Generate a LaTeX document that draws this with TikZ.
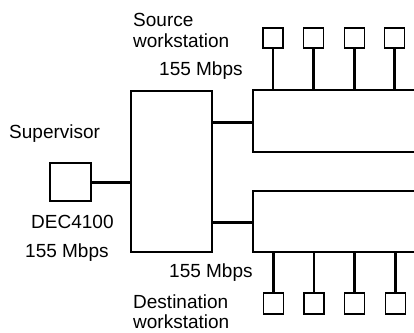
\documentclass[tikz,border=0pt]{standalone}
\usepackage{fontspec}
\setmainfont{Liberation Sans}
\begin{document}
\begin{tikzpicture}[x=1pt,y=-1pt,
  box/.style={draw,line width=1.5pt,inner sep=0pt,outer sep=0pt},
  ws/.style={box,minimum width=20pt,minimum height=20pt},
  link/.style={line width=3pt},
  lbl/.style={anchor=base west,inner sep=0pt,font=\fontsize{19}{21}\selectfont}]
\useasboundingbox (0,0) rectangle (414,332);
% central switch
\node[box,minimum width=81pt,minimum height=161pt] (sw) at (171.5,171.5) {};
% supervisor
\node[box,minimum width=41pt,minimum height=38pt] (sup) at (70.5,182) {};
% bus boxes (open to the right, beyond page edge)
\node[box,minimum width=180pt,minimum height=62pt] (busA) at (343,121) {};
\node[box,minimum width=180pt,minimum height=61pt] (busB) at (343,221.5) {};
% source workstations
\node[ws] (s1) at (273,38) {};
\node[ws] (s2) at (313.5,38) {};
\node[ws] (s3) at (354.5,38) {};
\node[ws] (s4) at (394.5,38) {};
% destination workstations
\node[ws,minimum height=21pt] (d1) at (273.5,303.5) {};
\node[ws,minimum height=21pt] (d2) at (314,303.5) {};
\node[ws,minimum height=21pt] (d3) at (354.5,303.5) {};
\node[ws,minimum height=21pt] (d4) at (395.5,303.5) {};
% links
\draw[link] (sup.east) -- (sup.east -| sw.west);
\draw[link] (sw.east |- 0,122) coordinate (ua) -- (ua -| busA.west);
\draw[link] (sw.east |- 0,222) coordinate (la) -- (la -| busB.west);
\foreach \n in {s1,s2,s3,s4}{\draw[link,line width=2.5pt] (\n.south) -- (\n.south |- busA.north);}
\foreach \n in {d1,d2,d3,d4}{\draw[link,line width=2.5pt] (\n.north) -- (\n.north |- busB.south);}
% labels
\node[lbl] (t1) at (133,26) {Source};
\node[lbl] (t2) at (133,47) {workstation};
\node[lbl] (t3) at (159,75) {155 Mbps};
\node[lbl] (t4) at (9,138) {Supervisor};
\node[lbl] (t5) at (31,228) {DEC4100};
\node[lbl] (t6) at (25,257) {155 Mbps};
\node[lbl] (t7) at (169,277) {155 Mbps};
\node[lbl] (t8) at (133,308) {Destination};
\node[lbl] (t9) at (133,328.5) {workstation};
\end{tikzpicture}
\end{document}
